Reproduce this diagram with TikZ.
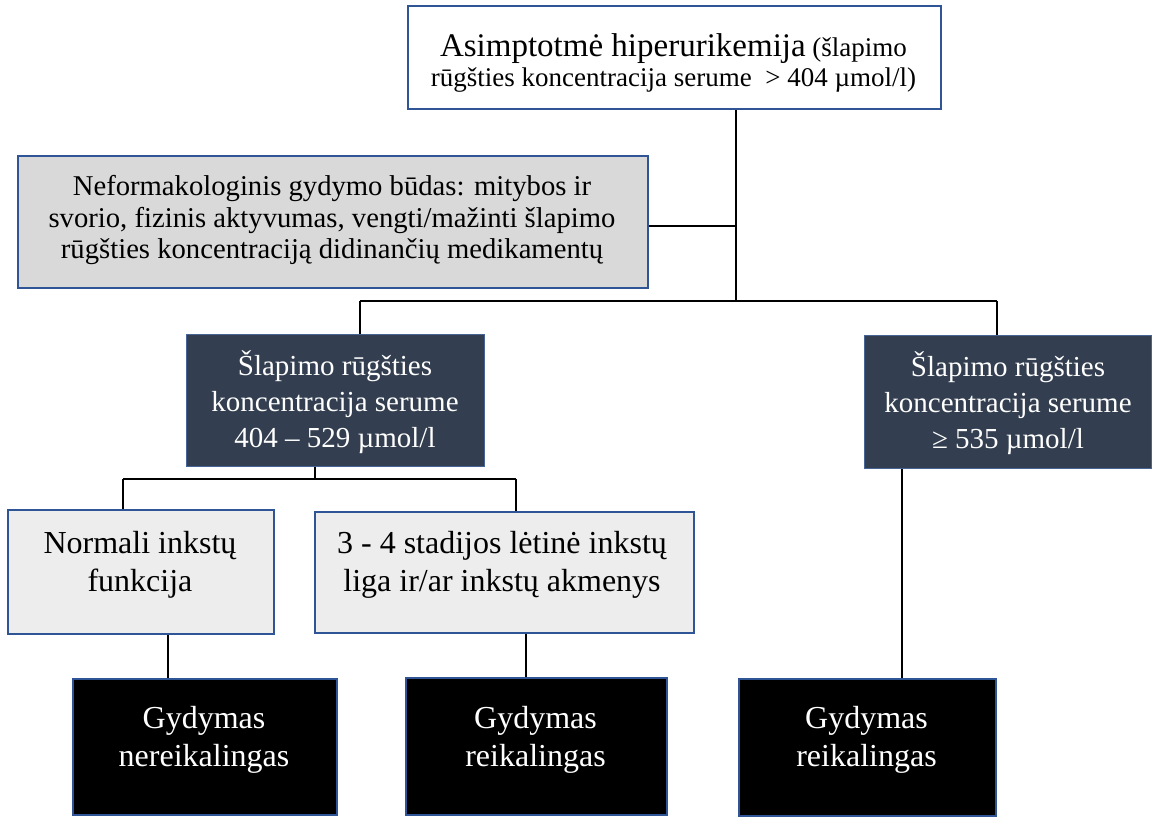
\documentclass[tikz,border=0pt]{standalone}
\usepackage{fontspec}
\setmainfont{Liberation Serif}
\definecolor{bordblue}{RGB}{47,85,151}
\definecolor{darkborder}{RGB}{70,100,150}
\definecolor{greyfill}{RGB}{217,217,217}
\definecolor{lightfill}{RGB}{237,237,237}
\definecolor{darkfill}{RGB}{51,63,80}
\tikzset{
  box/.style={draw=bordblue, line width=1.5pt, inner sep=0pt, anchor=north west},
  topbox/.style={box, fill=white},
  greybox/.style={box, fill=greyfill},
  darkbox/.style={box, fill=darkfill, line width=1pt, draw=darkborder},
  lightbox/.style={box, fill=lightfill},
  blackbox/.style={box, fill=black},
  txt/.style={align=center, inner sep=0pt, text=black},
  wtxt/.style={txt, text=white},
  conn/.style={draw=black, line width=1.5pt}
}
\begin{document}
\begin{tikzpicture}[x=0.75pt,y=-0.75pt]
\useasboundingbox (0,0) rectangle (1153,818);
% boxes
\node[topbox, minimum width=399.75pt, minimum height=77.25pt] (top) at (407,5) {};
\node[greybox, minimum width=472.5pt, minimum height=99pt] (grey) at (17,155) {};
\node[darkbox, minimum width=223.5pt, minimum height=99pt] (dark1) at (186,334) {};
\node[darkbox, minimum width=215.25pt, minimum height=99.75pt] (dark2) at (864,335) {};
\node[lightbox, minimum width=199.5pt, minimum height=93pt] (light1) at (7,509) {};
\node[lightbox, minimum width=284.25pt, minimum height=90.75pt] (light2) at (314,511) {};
\node[blackbox, minimum width=198pt, minimum height=102pt] (black1) at (72,678) {};
\node[blackbox, minimum width=195.75pt, minimum height=103pt] (black2) at (405,677) {};
\node[blackbox, minimum width=192.75pt, minimum height=103pt] (black3) at (738,678) {};
% texts
\node[txt, font=\fontsize{20.25pt}{22.5pt}\selectfont] (t1) at (673.5,63)
  {{\fontsize{24.75pt}{22.5pt}\selectfont Asimptotmė hiperurikemija} (šlapimo\\
   rūgšties koncentracija serume \ > 404 µmol/l)};
\node[txt, font=\fontsize{21.5pt}{23.6pt}\selectfont] (t2) at (332,220)
  {Neformakologinis gydymo būdas: mitybos ir\\
   svorio, fizinis aktyvumas, vengti/mažinti šlapimo\\
   rūgšties koncentraciją didinančių medikamentų};
\node[wtxt, font=\fontsize{21.75pt}{27pt}\selectfont] (t3) at (335,402.5)
  {Šlapimo rūgšties\\ koncentracija serume\\ 404 – 529 µmol/l};
\node[wtxt, font=\fontsize{21.75pt}{27pt}\selectfont] (t4) at (1008,403)
  {Šlapimo rūgšties\\ koncentracija serume\\ ≥ 535 µmol/l};
\node[txt, font=\fontsize{24pt}{28.5pt}\selectfont] (t5) at (140,565)
  {Normali inkstų\\ funkcija};
\node[txt, font=\fontsize{24pt}{28.5pt}\selectfont] (t6) at (502,565)
  {3 - 4 stadijos lėtinė inkstų\\ liga ir/ar inkstų akmenys};
\node[wtxt, font=\fontsize{24pt}{28.5pt}\selectfont] (t7) at (204,739.5)
  {Gydymas\\ nereikalingas};
\node[wtxt, font=\fontsize{24pt}{28.5pt}\selectfont] (t8) at (535.5,739.5)
  {Gydymas\\ reikalingas};
\node[wtxt, font=\fontsize{24pt}{28.5pt}\selectfont] (t9) at (866.5,739.5)
  {Gydymas\\ reikalingas};
% junction coordinates
\coordinate (j1) at (736,301);
\coordinate (h1) at (360,301);
\coordinate (h2) at (997,301);
\coordinate (j2) at (315,479);
\coordinate (k1) at (123,479);
\coordinate (k2) at (516,479);
\coordinate (v1) at (168,700);
\coordinate (v2) at (526,700);
\coordinate (v3) at (902,700);
% connectors
\draw[conn] (top.south -| j1) -- (j1);
\draw[conn] ([yshift=-3pt]grey.east) -- ([yshift=-3pt]grey.east -| j1);
\draw[conn] (h1) -- (h2);
\draw[conn] (h1) -- (h1 |- dark1.north);
\draw[conn] (h2) -- (h2 |- dark2.north);
\draw[conn] (j2 |- dark1.south) -- (j2);
\draw[conn] (k1) -- (k2);
\draw[conn] (k1) -- (k1 |- light1.north);
\draw[conn] (k2) -- (k2 |- light2.north);
\draw[conn] (v1 |- light1.south) -- (v1 |- black1.north);
\draw[conn] (v2 |- light2.south) -- (v2 |- black2.north);
\draw[conn] (v3 |- dark2.south) -- (v3 |- black3.north);
\end{tikzpicture}
\end{document}
